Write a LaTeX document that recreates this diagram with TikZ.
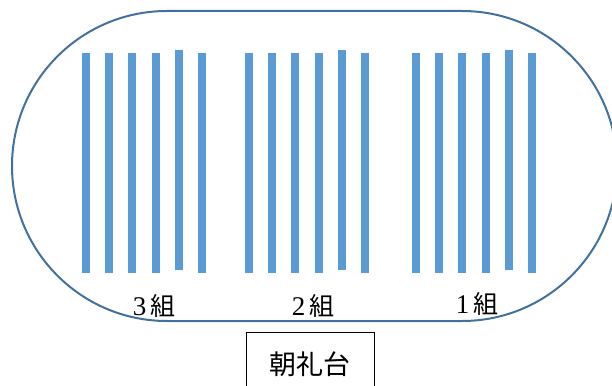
\documentclass[tikz,border=0pt]{standalone}
\usepackage{fontspec}
\setmainfont{Liberation Serif}
\newfontfamily\jpfont{Noto Sans CJK JP}
\definecolor{trackline}{HTML}{41719C}
\definecolor{rowbar}{HTML}{5B9BD5}
\tikzset{
  rowbar/.style={fill=rowbar, draw=none},
  classlabel/.style={font=\fontsize{27}{30}\selectfont, inner sep=0pt},
}
\begin{document}
\begin{tikzpicture}[x=1pt, y=-1pt]
        % Fix the page size
        \useasboundingbox (0,0) rectangle (612,385);
        \clip (0,0) rectangle (612,385);

        % Draw the track
        \draw[trackline, line width=2pt, rounded corners=155pt] (12,11) rectangle (617,321);

        % Draw the rows of each class
        \foreach \gx in {82,245,412} {
          \foreach \i in {0,...,5} {
            \pgfmathsetmacro{\bx}{\gx+23.2*\i}
            \ifnum\i=4
              \fill[rowbar] (\bx,50) rectangle ++(8,220);
            \else
              \fill[rowbar] (\bx,53) rectangle ++(8,220);
            \fi
          }
        }

        % Add labels
        \node[classlabel] (class3) at (154,306) {3\hspace{4pt}{\jpfont\fontsize{25}{28}\selectfont 組}};
        \node[classlabel] (class2) at (313,306) {2\hspace{4pt}{\jpfont\fontsize{25}{28}\selectfont 組}};
        \node[classlabel] (class1) at (477,304) {1\hspace{4pt}{\jpfont\fontsize{25}{28}\selectfont 組}};

        % Draw the stand
        \node[draw, line width=0.8pt, minimum width=128pt, minimum height=64pt,
          font=\fontsize{27}{30}\selectfont\jpfont] (stand) at (310,364) {朝礼台};
      \end{tikzpicture}
\end{document}
